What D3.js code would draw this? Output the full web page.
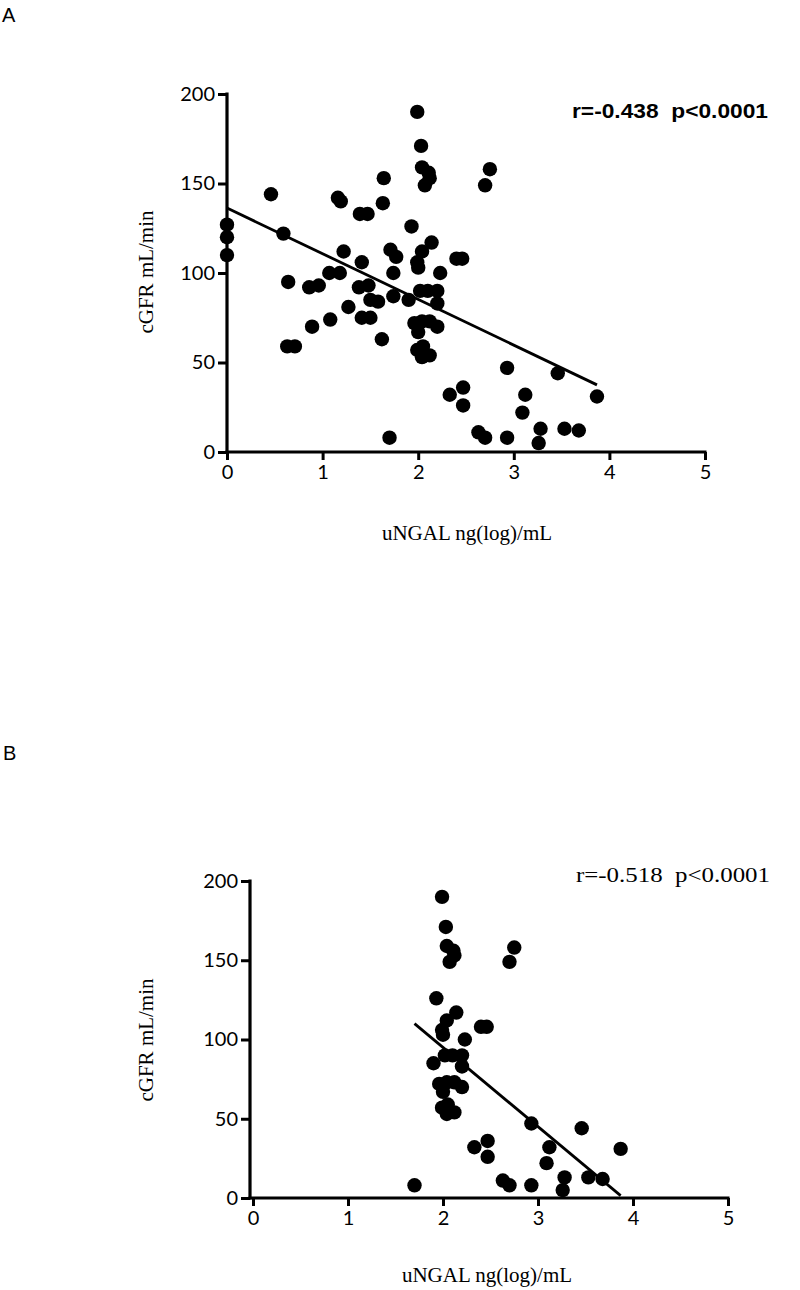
<!DOCTYPE html>
<html><head><meta charset="utf-8">
<script src="https://cdn.jsdelivr.net/npm/d3@7"></script>
<style>body{margin:0;background:#fff}</style>
</head><body>
<svg id="chart" width="800" height="1290"></svg>
<script>
// Panel A data (uNGAL log, cGFR)
const xA = [0,0,0,0.46,0.59,0.64,0.63,0.71,0.86,0.96,0.89,1.08,1.07,1.18,1.16,1.19,1.22,1.27,1.38,1.48,1.39,1.47,1.41,1.41,1.50,1.50,1.58,1.62,1.64,1.63,1.70,1.71,1.77,1.74,1.74,1.90,1.93,1.99,2.03,2.04,2.11,2.12,2.07,2.14,2.04,1.99,2.00,2.02,2.10,2.20,2.20,1.96,2.04,2.12,2.20,2.00,1.99,2.05,2.04,2.12,2.23,2.40,2.46,2.75,2.70,2.33,2.47,2.47,2.63,2.70,2.93,2.93,3.12,3.09,3.28,3.26,3.46,3.53,3.68,3.87];
const yA = [127,120,110,144,122,95,59,59,92,93,70,74,100,100,142,140,112,81,92,93,133,133,106,75,75,85,84,63,153,139,8,113,109,100,87,85,126,190,171,159,156,153,149,117,112,106,103,90,90,90,83,72,73,73,70,67,57,59,53,54,100,108,108,158,149,32,36,26,11,8,47,8,32,22,13,5,44,13,12,31];
// Panel B data
const xB = [1.70,1.90,1.93,1.99,2.03,2.04,2.11,2.12,2.07,2.14,2.04,1.99,2.00,2.02,2.10,2.20,2.20,1.96,2.04,2.12,2.20,2.00,1.99,2.05,2.04,2.12,2.23,2.40,2.46,2.75,2.70,2.33,2.47,2.47,2.63,2.70,2.93,2.93,3.12,3.09,3.28,3.26,3.46,3.53,3.68,3.87];
const yB = [8,85,126,190,171,159,156,153,149,117,112,106,103,90,90,90,83,72,73,73,70,67,57,59,53,54,100,108,108,158,149,32,36,26,11,8,47,8,32,22,13,5,44,13,12,31];
// regression line endpoints
const lineAx = [0, 3.87], lineAy = [136.3, 37.5];
const lineBx = [1.70, 3.87], lineBy = [110, 1.5];
const xTicks = [0,1,2,3,4,5];
const yTicks = [0,50,100,150,200];
const statA = "r=-0.438  p<0.0001";
const statB = "r=-0.518  p<0.0001";
const xLabel = "uNGAL ng(log)/mL";
const yLabel = "cGFR mL/min";

const svg = d3.select("#chart");

function panel(cfg){
  const g = svg.append("g");
  const x = d3.scaleLinear().domain([0,5]).range([cfg.x0, cfg.x1]);
  const y = d3.scaleLinear().domain([0,200]).range([cfg.y0, cfg.y1]);
  const xAxis = g.append("g").attr("transform",`translate(0,${cfg.y0})`)
    .call(d3.axisBottom(x).tickValues(xTicks).tickFormat(d3.format("d")).tickSize(8).tickPadding(5));
  const yAxis = g.append("g").attr("transform",`translate(${cfg.yAxisX},0)`)
    .call(d3.axisLeft(y).tickValues(yTicks).tickSize(9).tickPadding(3));
  [xAxis,yAxis].forEach(a=>{
    a.selectAll(".tick line").attr("stroke","#000").attr("stroke-width",3);
    a.selectAll("text").attr("fill","#000").style("font-family", cfg.tickFont).style("font-size","20px");
  });
  xAxis.select(".domain").remove();
  yAxis.select(".domain").remove();
  g.append("line").attr("x1",cfg.yAxisX-1.5).attr("x2",x(5)+1.5).attr("y1",cfg.y0).attr("y2",cfg.y0)
    .attr("stroke","#000").attr("stroke-width",3.2);
  g.append("line").attr("x1",cfg.yAxisX).attr("x2",cfg.yAxisX).attr("y1",y(200)-1.5).attr("y2",cfg.y0+1.5)
    .attr("stroke","#000").attr("stroke-width",3.2);

  // points
  g.append("g").selectAll("circle").data(cfg.xs.map((v,i)=>[v,cfg.ys[i]])).join("circle")
    .attr("cx",d=>x(d[0])).attr("cy",d=>y(d[1])).attr("r",7.2).attr("fill","#000");
  // regression line
  g.append("line").attr("x1",x(cfg.lx[0])).attr("y1",y(cfg.ly[0])).attr("x2",x(cfg.lx[1])).attr("y2",y(cfg.ly[1]))
    .attr("stroke","#000").attr("stroke-width",2.8);
  // stat text
  g.append("text").attr("x",cfg.statX).attr("y",cfg.statY).text(cfg.stat)
    .attr("textLength",cfg.statLen).attr("lengthAdjust","spacingAndGlyphs")
    .style("font-family",cfg.statFont).style("font-size",cfg.statSize).style("font-weight",cfg.statWeight)
    .style("white-space","pre").attr("fill","#000");
  // axis labels
  g.append("text").attr("x",cfg.xLabX).attr("y",cfg.xLabY).attr("text-anchor","middle").text(xLabel)
    .style("font-family","'Liberation Serif', serif").style("font-size","21px").attr("fill","#000");
  g.append("text").attr("transform",`translate(${cfg.yLabX},${cfg.yLabY}) rotate(-90)`).attr("text-anchor","middle").text(yLabel)
    .style("font-family","'Liberation Serif', serif").style("font-size","21px").attr("fill","#000");
  // panel letter
  svg.append("text").attr("x",cfg.letterX).attr("y",cfg.letterY).text(cfg.letter)
    .style("font-family","'Liberation Sans', Arial, sans-serif").style("font-size","20px").attr("fill","#000");
}

panel({x0:227,x1:705,y0:452,y1:94,yAxisX:227,xs:xA,ys:yA,lx:lineAx,ly:lineAy,
  stat:statA,statX:572,statY:118,statLen:196,statFont:"'Liberation Sans', Arial, sans-serif",statSize:"21px",statWeight:"bold",
  tickFont:"Lato, sans-serif",
  xLabX:467,xLabY:540,yLabX:153,yLabY:272,letter:"A",letterX:2,letterY:22});

panel({x0:253,x1:728,y0:1198,y1:881,yAxisX:250,xs:xB,ys:yB,lx:lineBx,ly:lineBy,
  stat:statB,statX:576,statY:882,statLen:194,statFont:"'Liberation Serif', serif",statSize:"22px",statWeight:"normal",
  tickFont:"Lato, sans-serif",
  xLabX:487,xLabY:1282,yLabX:153,yLabY:1040,letter:"B",letterX:3,letterY:760});
</script>
</body></html>
